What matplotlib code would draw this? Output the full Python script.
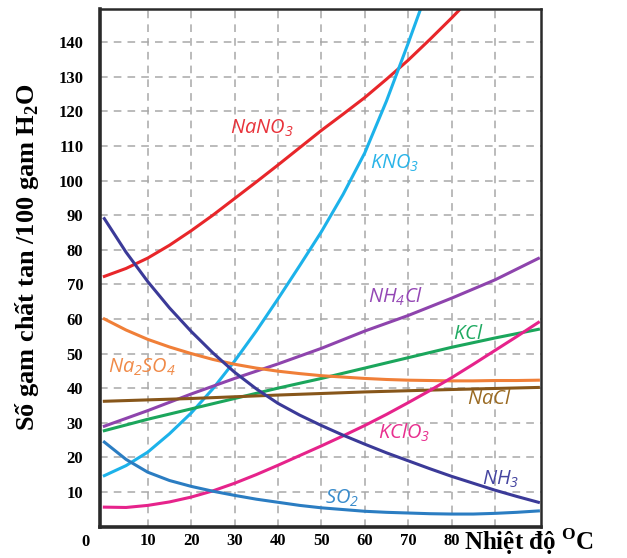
import numpy as np
import matplotlib as ml
ml.use('Agg')
import matplotlib.pyplot as plt

plt.rcParams['font.family'] = ['Liberation Serif', 'DejaVu Serif']
plt.rcParams['mathtext.fontset'] = 'custom'
plt.rcParams['mathtext.rm'] = 'Open Sans:italic'
plt.rcParams['mathtext.it'] = 'Open Sans:italic'
plt.rcParams['mathtext.bf'] = 'Liberation Serif:bold'

# solubility (g / 100 g water)
t5 = [0, 5, 10, 15, 20, 25, 30, 35, 40, 45, 50, 55, 60, 65, 70, 75, 80, 85, 90, 95, 100]
t10 = [0, 10, 20, 30, 40, 50, 60, 70, 80, 90, 100]
t20 = [0, 20, 40, 60, 80, 100]

t_kno3 = [0, 5, 10, 15, 20, 25, 30, 35, 40, 45, 50, 55, 60, 65, 70, 75]
kno3 = [14.7, 17.6, 21.5, 26.8, 32.8, 39.8, 47.8, 56.5, 65.8, 75.4, 85.2, 96, 108, 123, 139.7, 157]

t_nano3 = [0, 5, 10, 15, 20, 25, 30, 35, 40, 45, 50, 55, 60, 65, 70, 75, 80, 85]
nano3 = [72.3, 74.6, 77.6, 81.3, 85.5, 90, 94.8, 99.6, 104.5, 109.5, 114.5, 119.2,
         124, 129.3, 134.8, 140.8, 147, 153.5]

nh3 = [89, 79.3, 70.8, 63.2, 56.4, 50.2, 44.6, 39.8, 35.6, 32.2, 29.2, 26.4, 23.8,
       21.3, 19, 16.7, 14.5, 12.5, 10.5, 8.7, 7]
so2 = [24.4, 19.4, 15.7, 13.3, 11.6, 10.2, 9, 7.9, 7, 6.1, 5.4, 4.9, 4.4, 4.1, 3.9,
       3.7, 3.6, 3.6, 3.8, 4.1, 4.5]
kclo3 = [5.6, 5.5, 6.1, 7.1, 8.5, 10.3, 12.5, 15, 17.7, 20.5, 23.3, 26.2, 29.2, 32.4,
         35.8, 39.3, 43, 46.9, 50.9, 54.9, 59]
na2so4 = [60, 56.8, 54.1, 51.9, 50, 48.3, 46.9, 45.8, 44.9, 44.2, 43.6, 43.2, 42.8,
          42.5, 42.3, 42.2, 42.1, 42.1, 42.2, 42.2, 42.3]
nh4cl = [29, 33.5, 38.3, 42.8, 47, 51.5, 56.5, 61, 66, 71.3, 77.5]
kcl = [27.7, 31, 34, 37, 40, 42.8, 45.8, 48.8, 51.8, 54.5, 57]
nacl = [36.2, 37, 38, 38.9, 39.6, 40.2]

fig = plt.figure(figsize=(6.27, 5.58), dpi=100)
ax = fig.add_axes([100/627, 31.5/558, 441/627, 517.5/558])

ax.plot(t_nano3, nano3, color='#e8262a', lw=2.2)
ax.plot(t_kno3, kno3, color='#1cb2ea', lw=2.2)
ax.plot(t10, nh4cl, color='#8e44ad', lw=2.2)
ax.plot(t10, kcl, color='#1ba65c', lw=2.2)
ax.plot(t5, na2so4, color='#f07f38', lw=2.2)
ax.plot(t20, nacl, color='#87561a', lw=2.2)
ax.plot(t5, kclo3, color='#e6238b', lw=2.2)
ax.plot(t5, nh3, color='#3b3a98', lw=2.2)
ax.plot(t5, so2, color='#2b7dc2', lw=2.2)

lab = dict(fontsize=14.5, ha='left', va='center')
ax.text(28.9, 115.2, r'$NaNO_3$', color='#e8323a', **lab)
ax.text(61.2, 105, r'$KNO_3$', color='#2ab4e8', **lab)
ax.text(60.7, 66.3, r'$NH_4Cl$', color='#9447b5', **lab)
ax.text(80.3, 55.6, r'$KCl$', color='#20aa62', **lab)
ax.text(0.8, 46, r'$Na_2SO_4$', color='#f08a48', **lab)
ax.text(83.5, 36.8, r'$NaCl$', color='#9a6a22', **lab)
ax.text(63, 27, r'$KClO_3$', color='#e8308f', **lab)
ax.text(87, 13.7, r'$NH_3$', color='#4545a0', **lab)
ax.text(50.8, 8, r'$SO_2$', color='#3a8ccc', **lab)

ax.set_xlim(-1, 100.6)
ax.set_ylim(0, 149.6)
ax.set_xticks(range(10, 100, 10))
ax.set_xticklabels(['10', '20', '30', '40', '50', '60', '70', '80', ''])
ax.set_yticks(range(10, 150, 10))
ax.tick_params(length=0, labelsize=12)
ax.tick_params(axis='y', pad=12)
ax.tick_params(axis='x', pad=5)
for lb in ax.get_xticklabels() + ax.get_yticklabels():
    lb.set_fontweight('bold')

ax.grid(True, color='#a8a8a8', lw=1.1, linestyle=(0, (5, 4)))
ax.set_axisbelow(True)

for s in ['left', 'bottom']:
    ax.spines[s].set_linewidth(2.6)
for s in ['top', 'right']:
    ax.spines[s].set_linewidth(1.8)
for s in ax.spines.values():
    s.set_color('#2a2a2a')

ax.text(-0.034, -0.03, '0', transform=ax.transAxes, ha='center', va='center',
        fontsize=12, fontweight='bold')
ax.text(0.825, -0.045, r'Nhiệt độ $^\mathbf{O}$C', transform=ax.transAxes,
        ha='left', va='baseline', fontsize=18, fontweight='bold')
fig.text(27/627, 1 - 257/558, r'Số gam chất tan /100 gam H$_\mathbf{2}$O',
         rotation=90, ha='center', va='center', fontsize=19, fontweight='bold')

plt.savefig('out.png', dpi=100)
